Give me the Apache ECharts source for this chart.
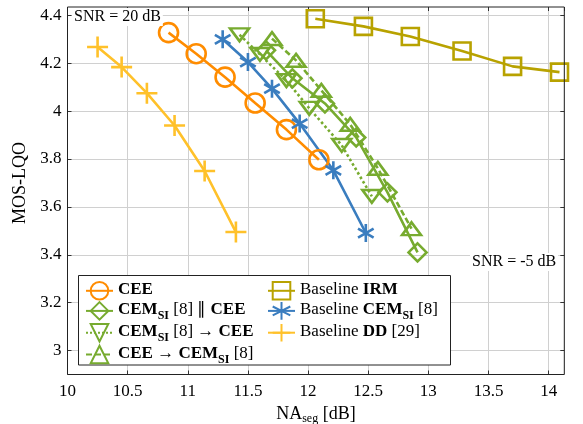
<!DOCTYPE html>
<html>
<head>
<meta charset="utf-8">
<script src="https://cdn.jsdelivr.net/npm/echarts@6/dist/echarts.min.js"></script>
<style>html,body{margin:0;padding:0;background:#fff}#c{width:583px;height:424px}</style>
</head>
<body>
<div id="c"></div>
<script>
// ---- data ----
const ceeX = [10.84, 11.07, 11.31, 11.56, 11.82, 12.09];
const ceeY = [4.328, 4.240, 4.142, 4.034, 3.923, 3.797];
const parX = [11.65, 11.87, 12.14, 12.40, 12.66, 12.91];
const parY = [4.254, 4.137, 4.032, 3.890, 3.661, 3.410];
const semToCeeX = [11.43, 11.60, 11.82, 12.01, 12.28, 12.53];
const semToCeeY = [4.319, 4.237, 4.128, 4.012, 3.857, 3.644];
const ceeToSemX = [11.70, 11.90, 12.11, 12.35, 12.58, 12.86];
const ceeToSemY = [4.303, 4.212, 4.087, 3.945, 3.761, 3.509];
const irmX = [12.06, 12.46, 12.85, 13.28, 13.70, 14.09];
const irmY = [4.386, 4.354, 4.312, 4.251, 4.187, 4.163];
const cemX = [11.29, 11.50, 11.70, 11.93, 12.21, 12.48];
const cemY = [4.300, 4.205, 4.094, 3.948, 3.753, 3.491];
const ddX = [10.25, 10.45, 10.66, 10.89, 11.14, 11.40];
const ddY = [4.268, 4.184, 4.075, 3.940, 3.750, 3.495];

const seriesNames = ['CEE', 'CEMSI || CEE', 'CEMSI -> CEE', 'CEE -> CEMSI', 'Baseline IRM', 'Baseline CEMSI', 'Baseline DD'];
const legendLabels = {
  'CEE': '{b|CEE}',
  'CEMSI || CEE': '{b|CEM}{s|SI}{r| [8] \u2225 }{b|CEE}',
  'CEMSI -> CEE': '{b|CEM}{s|SI}{r| [8] \u2192 }{b|CEE}',
  'CEE -> CEMSI': '{b|CEE}{r| \u2192 }{b|CEM}{s|SI}{r| [8]}',
  'Baseline IRM': '{r|Baseline }{b|IRM}',
  'Baseline CEMSI': '{r|Baseline }{b|CEM}{s|SI}{r| [8]}',
  'Baseline DD': '{r|Baseline }{b|DD}{r| [29]}'
};

const FONT = 'Liberation Serif';
const C_OR = '#ff8c00', C_GR = '#77ab2f', C_OL = '#b8a200', C_BL = '#3a7dbf', C_YE = '#ffc12a';
const LW = 2.6;

const zip = (xs, ys) => xs.map((x, i) => [x, ys[i]]);

const P_DOWN = 'path://M0,0L2,0L1,1.6Z';
const P_UP = 'path://M1,0L2,1.6L0,1.6Z';
const P_AST = 'path://M0,-10L0,10M-8.66,-5L8.66,5M-8.66,5L8.66,-5';
const P_PLUS = 'path://M-10,0L10,0M0,-10L0,10';

function mk(name, xs, ys, color, symbol, size, lineType) {
  return {
    name, type: 'line', xAxisIndex: 0, yAxisIndex: 0,
    data: zip(xs, ys),
    symbol, symbolSize: size, symbolKeepAspect: true,
    showAllSymbol: true,
    lineStyle: { color, width: LW, type: lineType || 'solid' },
    itemStyle: { color: 'rgba(0,0,0,0)', borderColor: color, borderWidth: LW },
    emphasis: { disabled: true },
    animation: false, z: 3
  };
}

const rich = {
  r: { fontFamily: FONT, fontSize: 17, color: '#000', lineHeight: 19, verticalAlign: 'top' },
  b: { fontFamily: FONT, fontSize: 17, color: '#000', fontWeight: 'bold', lineHeight: 19, verticalAlign: 'top' },
  s: { fontFamily: FONT, fontSize: 12, color: '#000', fontWeight: 'bold', lineHeight: 12, padding: [9, 0, 0, 0], verticalAlign: 'top' }
};

// pixel geometry
const L = 67.5, R = 583 - 564.3;
const T0 = 7, B0 = 424 - 374.5;          // data grid: 2.9 .. 4.435
const T1 = 15.38, B1 = 424 - 350.55;     // tick grid: 3.0 .. 4.4

const chart = echarts.init(document.getElementById('c'), null, { renderer: 'canvas' });
chart.setOption({
  backgroundColor: '#fff',
  animation: false,
  grid: [
    { left: L, right: R, top: T0, bottom: B0, containLabel: false, outerBoundsMode: 'none',
      show: true, borderColor: '#222', borderWidth: 1, backgroundColor: 'transparent', z: 4 },
    { left: L, right: R, top: T1, bottom: B1, containLabel: false, outerBoundsMode: 'none', show: false }
  ],
  xAxis: [
    {
      type: 'value', gridIndex: 0, min: 10, max: 14.13, interval: 0.5,
      axisLine: { show: false },
      axisTick: { show: true, inside: true, length: 4, lineStyle: { color: '#333' } },
      axisLabel: { showMaxLabel: false, fontFamily: FONT, fontSize: 17, color: '#000', margin: 9 },
      splitLine: { show: true, lineStyle: { color: '#d0d0d0', width: 1 } },
      name: '{a|NA}{s|seg}{a| [dB]}', nameLocation: 'middle', nameGap: 21,
      nameTextStyle: { rich: {
        a: { fontFamily: FONT, fontSize: 18, color: '#000', lineHeight: 20, verticalAlign: 'top' },
        s: { fontFamily: FONT, fontSize: 12, color: '#000', lineHeight: 12, padding: [7, 0, 0, 0], verticalAlign: 'top' }
      } }
    },
    { type: 'value', gridIndex: 1, min: 10, max: 14.13, show: false },
    {
      type: 'value', gridIndex: 0, min: 10, max: 14.13, interval: 0.5, position: 'top',
      axisLine: { show: false }, axisLabel: { show: false }, splitLine: { show: false },
      axisTick: { show: true, inside: true, length: 4, lineStyle: { color: '#333' } }
    }
  ],
  yAxis: [
    { type: 'value', gridIndex: 0, min: 2.9, max: 4.435, show: false },
    {
      type: 'value', gridIndex: 1, min: 3.0, max: 4.4, interval: 0.2,
      axisLine: { show: false },
      axisTick: { show: true, inside: true, length: 4, lineStyle: { color: '#333' } },
      axisLabel: { fontFamily: FONT, fontSize: 17, color: '#000', margin: 6,
        formatter: v => (Math.round(v * 10) / 10).toString() },
      splitLine: { show: true, lineStyle: { color: '#d0d0d0', width: 1 } },
      name: 'MOS-LQO', nameLocation: 'middle', nameGap: 37, nameRotate: 90,
      nameTextStyle: { fontFamily: FONT, fontSize: 18, color: '#000' }
    },
    {
      type: 'value', gridIndex: 1, min: 3.0, max: 4.4, interval: 0.2, position: 'right',
      axisLine: { show: false }, axisLabel: { show: false }, splitLine: { show: false },
      axisTick: { show: true, inside: true, length: 4, lineStyle: { color: '#333' } }
    }
  ],
  legend: [
    {
      data: seriesNames.slice(0, 4), orient: 'vertical', left: 80, top: 276,
      itemWidth: 27, itemHeight: 22, itemGap: 0.5, selectedMode: false,
      formatter: n => legendLabels[n], textStyle: { rich }, z: 10
    },
    {
      data: seriesNames.slice(4), orient: 'vertical', left: 262, top: 276,
      itemWidth: 27, itemHeight: 22, itemGap: 0.5, selectedMode: false,
      formatter: n => legendLabels[n], textStyle: { rich }, z: 10
    }
  ],
  graphic: [
    { type: 'rect', shape: { x: 78.5, y: 275.5, width: 372, height: 89.5 },
      style: { fill: '#fff', stroke: '#222', lineWidth: 1 }, z: 5, silent: true },
    { type: 'text', left: 72, top: 8, z: 6,
      style: { text: 'SNR = 20 dB', font: '16px "Liberation Serif"', fill: '#000', backgroundColor: '#fff', padding: [1, 2] } },
    { type: 'text', left: 470, top: 253, z: 6,
      style: { text: 'SNR = -5 dB', font: '16px "Liberation Serif"', fill: '#000', backgroundColor: '#fff', padding: [1, 2] } }
  ],
  series: [
    mk(seriesNames[0], ceeX, ceeY, C_OR, 'circle', 19),
    mk(seriesNames[1], parX, parY, C_GR, 'diamond', 18),
    mk(seriesNames[2], semToCeeX, semToCeeY, C_GR, P_DOWN, [19, 16], 'dotted'),
    mk(seriesNames[3], ceeToSemX, ceeToSemY, C_GR, P_UP, [19, 16], [6, 3]),
    mk(seriesNames[4], irmX, irmY, C_OL, 'rect', 17),
    mk(seriesNames[5], cemX, cemY, C_BL, P_AST, 18),
    mk(seriesNames[6], ddX, ddY, C_YE, P_PLUS, 21)
  ]
});
</script>
</body>
</html>
